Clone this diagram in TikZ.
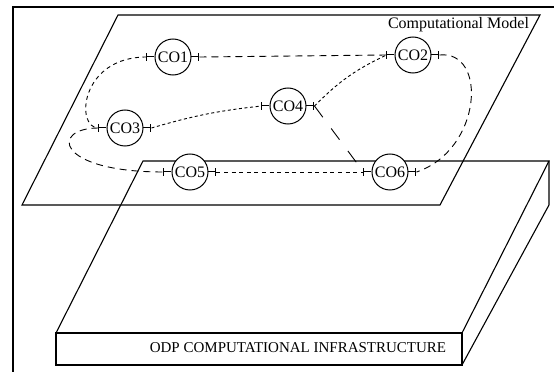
\documentclass[tikz,border=0pt]{standalone}
\usepackage{tikz}
\usepackage{fontspec}
\setmainfont{Liberation Serif}
\usetikzlibrary{arrows.meta,positioning,calc}

\begin{document}
\begin{tikzpicture}[
  x=0.5pt,y=-0.5pt,
  font=\fontsize{7.5}{9}\selectfont,
  obj/.style={circle,draw,fill=white,minimum size=18pt,inner sep=0pt,line width=0.5pt,font=\fontsize{8}{9}\selectfont},
  port/.style={-{Bar[width=3.6pt,line width=0.5pt]},line width=0.5pt},
  sheet/.style={line width=0.55pt,line join=miter},
  frame/.style={line width=0.8pt},
  link/.style={line width=0.45pt,dash pattern=on 2pt off 1.8pt},
  finelink/.style={line width=0.45pt,dash pattern=on 1.5pt off 1.3pt},
  looselink/.style={line width=0.45pt,dash pattern=on 3.5pt off 2.5pt},
  longlink/.style={line width=0.45pt,dash pattern=on 7pt off 7pt},
]
\useasboundingbox (0,0) rectangle (554,380);

\draw[frame] (13,372) -- (13,7) -- (554,7);

% computational model plane and infrastructure slab
\draw[sheet] (118,15) -- (540,15) -- (440,205) -- (22,205) -- cycle;
\draw[sheet] (143,161) -- (549,161) -- (462,333) -- (56,333) -- cycle;
\draw[sheet] (56,333) rectangle (462,365);
\draw[sheet] (549,161) -- (549,205) -- (462,365);

\node[anchor=east,font=\fontsize{8}{9.5}\selectfont] (model) at (536,25) {Computational Model};
\node (infra) at (298,348) {ODP COMPUTATIONAL INFRASTRUCTURE};

\node[obj] (co1) at (173,57) {CO1};
\node[obj] (co2) at (413,55) {CO2};
\node[obj] (co3) at (125,128) {CO3};
\node[obj] (co4) at (288,106) {CO4};
\node[obj] (co5) at (190,172) {CO5};
\node[obj] (co6) at (390,172) {CO6};

\foreach \o in {co1,co2,co3,co4,co5,co6}{
  \coordinate (\o-w) at ([xshift=-4pt]\o.west);
  \coordinate (\o-e) at ([xshift=4pt]\o.east);
  \draw[port] (\o.west) -- (\o-w);
  \draw[port] (\o.east) -- (\o-e);
}

\draw[link] (co1-w) .. controls (80,57) and (75,128) .. (co3-w);
\draw[looselink] (co1-e) -- (co2-w);
\draw[finelink] (co3-e) to[bend left=5] (co4-w);
\draw[finelink] (co4-e) to[bend left=10] (co2-w);
\draw[longlink] (co4-e) -- (co6-w);
\draw[looselink] (co3-w) .. controls (50,128) and (55,172) .. (co5-w);
\draw[link] (co5-e) -- (co6-w);
\draw[looselink] (co2-e) .. controls (488,50) and (482,150) .. (co6-e);

\end{tikzpicture}
\end{document}
